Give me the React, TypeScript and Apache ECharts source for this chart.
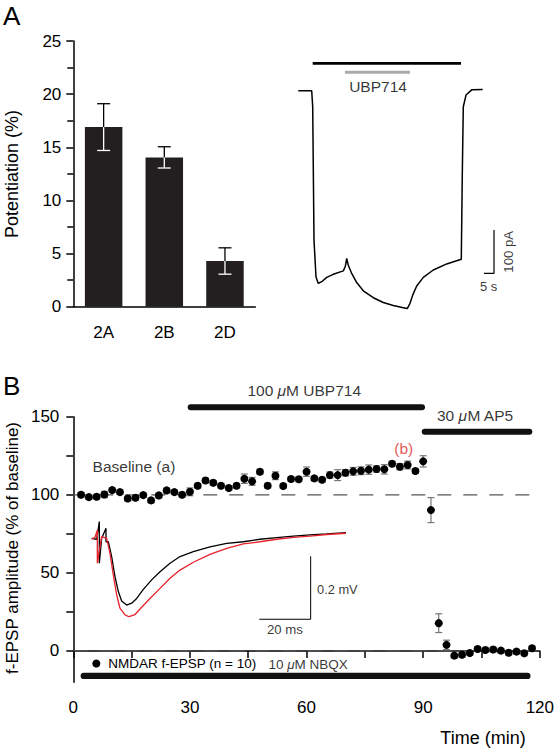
import React, { useEffect, useRef } from 'react';
import * as echarts from 'echarts';

const FONT = "'Liberation Sans', Arial, Helvetica, sans-serif";

// ---------- Panel A: potentiation by subunit ----------
const subunits = ['2A', '2B', '2D'];
const potentiation = [16.9, 14.05, 4.3];
const potentiationSem = [2.2, 1.0, 1.24];

// ---------- Panel A: whole-cell current trace ----------
const traceTimeS = [0, 6.7, 7.2, 7.85, 8.85, 10, 11.7, 14.2, 17.5, 22.5, 23.5, 24.2, 25, 26.7, 29.2, 32.5, 37.5, 42.5, 47.5, 52.5, 54.5, 55.85, 57.2, 59.2, 62.5, 67.5, 74.2, 81.5, 82, 82.5, 83.85, 86.7, 92.2];
const traceCurrentPA = [0, 0, -37, -345, -430, -445, -441, -431, -424, -416, -406, -387, -403, -422, -443, -462, -478, -489, -496, -501, -503, -491, -472, -451, -431, -414, -400, -389, -191, -37, -10, 2, 3];
const agonistBar = [[7.2, 63.3], [81.35, 63.3]];
const ubpApplicationBar = [[23.35, 42.5], [55.85, 42.5]];
const currentScaleBar = [[92.85, -421.7], [97.85, -421.7], [97.85, -321.7]];

// ---------- Panel B: NMDAR f-EPSP time course ----------
const timeMin = [2, 4, 6, 8, 10, 12, 14, 16, 18, 20, 22, 24, 26, 28, 30, 32, 34, 36, 38, 40, 42, 44, 46, 48, 50, 52, 54, 56, 58, 60, 62, 64, 66, 68, 70, 72, 74, 76, 78, 80, 82, 84, 86, 88, 90, 92, 94, 96, 98, 100, 102, 104, 106, 108, 110, 112, 114, 116, 118];
const fepsp = [100.0, 98.5, 98.7, 100.2, 103.0, 101.7, 97.6, 98.1, 99.8, 96.4, 99.6, 102.8, 101.7, 100.0, 101.9, 105.8, 109.2, 107.7, 105.8, 104.3, 105.8, 110.3, 108.6, 114.8, 105.8, 112.2, 105.6, 110.1, 109.9, 114.8, 110.5, 109.6, 112.6, 112.6, 114.1, 115.0, 115.4, 116.1, 116.5, 116.3, 119.9, 118.0, 119.1, 115.2, 121.4, 90.2, 17.8, 3.9, -3.0, -2.4, -1.3, 1.3, 0.6, 0.9, 0.2, -1.1, -0.4, -1.5, 1.7];
const fepspSem = [1.5, 1.5, 1.5, 2.0, 1.5, 1.5, 1.5, 1.5, 1.5, 1.5, 1.5, 1.5, 1.5, 1.5, 2.5, 1.5, 1.5, 1.5, 1.5, 1.5, 1.5, 3.0, 2.5, 1.5, 1.5, 2.5, 1.5, 1.5, 1.5, 3.0, 1.5, 1.5, 2.0, 3.5, 2.0, 2.5, 2.5, 3.0, 2.0, 3.0, 1.5, 2.0, 2.5, 1.5, 3.6, 8.0, 6.0, 3.0, 1.5, 1.5, 1.5, 1.5, 1.5, 1.5, 1.5, 1.5, 1.5, 1.5, 1.5];
const timeTicks = [0, 15, 30, 45, 60, 75, 90, 105, 120];
const timeTickLabels = [0, 30, 60, 90, 120];
const ampTicks = [0, 25, 50, 75, 100, 125, 150];
const ampTickLabels = [0, 50, 100, 150];
const ubpBarB = [[30.2, 156], [89.7, 156]];
const ap5Bar = [[90.4, 140.3], [117.3, 140.3]];
const nbqxBar = [[2.7, -16], [116.8, -16]];
const baselineRef = [[0, 100], [120, 100]];
const zeroRef = [[0, 0], [120, 0]];

// ---------- Panel B inset: example f-EPSPs ----------
const baselineTimeMs = [0, 1.93, 2.97, 2.97, 3.88, 5.56, 5.56, 6.47, 7.77, 9.07, 10.36, 11.66, 13.6, 15.55, 17.5, 20.09, 23.33, 26.58, 30.47, 34.36, 39.55, 46.03, 52.52, 59, 65.49, 71.97, 78.46, 84.94, 91.43, 98.95];
const baselineMv = [0, -0.003, 0.053, -0.079, 0, 0.032, -0.011, -0.011, -0.058, -0.122, -0.169, -0.199, -0.212, -0.206, -0.191, -0.162, -0.132, -0.106, -0.079, -0.058, -0.042, -0.027, -0.016, -0.011, -0.003, 0.002, 0.007, 0.011, 0.014, 0.018];
const ubpTimeMs = [0, 1.28, 2.19, 2.19, 3.88, 5.82, 7.12, 8.42, 9.72, 11.01, 12.96, 14.51, 16.85, 19.44, 22.68, 26.58, 30.47, 34.36, 39.55, 46.03, 52.52, 59, 65.49, 71.97, 78.46, 84.94, 91.43, 98.95];
const ubpMv = [-0.003, 0.003, 0.026, -0.079, 0.005, 0, -0.048, -0.117, -0.18, -0.222, -0.243, -0.249, -0.242, -0.219, -0.191, -0.159, -0.127, -0.101, -0.076, -0.051, -0.032, -0.018, -0.011, -0.003, 0.003, 0.007, 0.012, 0.016];
const insetScaleBar = [[65.2, -0.257], [85.2, -0.257], [85.2, -0.057]];

const LEGEND_NAME = 'NMDAR f-EPSP (n = 10)';

type Ann = { x: number; y: number; text: string; align?: string; rotate?: number; color?: string; size?: number };

function labelSeries(xi: number, yi: number, items: Ann[]) {
  return {
    type: 'scatter',
    xAxisIndex: xi,
    yAxisIndex: yi,
    symbolSize: 0,
    silent: true,
    clip: false,
    z: 10,
    itemStyle: { color: 'rgba(0,0,0,0)' },
    data: items.map((it) => ({
      value: [it.x, it.y],
      label: {
        show: true,
        position: 'inside',
        formatter: it.text,
        align: it.align || 'center',
        verticalAlign: 'middle',
        rotate: it.rotate || 0,
        color: it.color || '#000',
        fontSize: it.size || 15.5,
        fontFamily: FONT,
        rich: {
          i: { fontStyle: 'italic', fontSize: it.size || 15.5, fontFamily: FONT, color: it.color || '#000' },
        },
      },
    })),
  };
}

function lineSeries(xi: number, yi: number, data: number[][], style: any, z = 2) {
  return {
    type: 'line',
    xAxisIndex: xi,
    yAxisIndex: yi,
    data,
    showSymbol: false,
    symbol: 'none',
    silent: true,
    clip: false,
    z,
    lineStyle: style,
  };
}

const axisLineStyle = { color: '#000', width: 1.5 };
const labelStyle = { color: '#000', fontSize: 17, fontFamily: FONT };

function buildOption() {
  const hidden = { show: false };
  return {
    animation: false,
    backgroundColor: '#fff',
    legend: {
      data: [{ name: LEGEND_NAME, icon: 'circle' }],
      left: 92.3,
      top: 656.5,
      itemWidth: 8,
      itemHeight: 8,
      padding: 0,
      selectedMode: false,
      textStyle: { fontSize: 13.5, fontFamily: FONT, color: '#000', padding: [0, 0, 0, 3] },
    },
    grid: [
      { left: 73.3, top: 41, width: 182, height: 265.7 },
      { left: 298.3, top: 56.1, width: 200, height: 259.8 },
      { left: 73.3, top: 416.7, width: 468.5, height: 265.5 },
      { left: 91.7, top: 506.8, width: 257, height: 126 },
    ],
    xAxis: [
      {
        gridIndex: 0,
        type: 'category',
        data: subunits,
        boundaryGap: true,
        axisLine: { lineStyle: axisLineStyle },
        axisTick: { alignWithLabel: false, length: 7, lineStyle: axisLineStyle },
        axisLabel: { ...labelStyle, margin: 17 },
        splitLine: hidden,
      },
      { gridIndex: 1, type: 'value', min: 0, max: 100, show: false },
      {
        gridIndex: 2,
        type: 'value',
        min: 0,
        max: 120,
        interval: 15,
        axisLine: { lineStyle: axisLineStyle },
        axisTick: { length: 7, lineStyle: axisLineStyle, customValues: timeTicks },
        axisLabel: { ...labelStyle, margin: 17, customValues: timeTickLabels },
        splitLine: hidden,
      },
      { gridIndex: 3, type: 'value', min: 0, max: 100, show: false },
    ],
    yAxis: [
      {
        gridIndex: 0,
        type: 'value',
        min: 0,
        max: 25,
        interval: 5,
        axisLine: { show: true, lineStyle: axisLineStyle },
        axisTick: { show: true, length: 7, lineStyle: axisLineStyle },
        minorTick: { show: true, splitNumber: 2, length: 6, lineStyle: axisLineStyle },
        axisLabel: { ...labelStyle, margin: 12 },
        splitLine: hidden,
      },
      { gridIndex: 1, type: 'value', min: -520, max: 80, show: false },
      {
        gridIndex: 2,
        type: 'value',
        min: -20,
        max: 150,
        axisLine: { show: true, lineStyle: axisLineStyle },
        axisTick: { show: true, length: 7, lineStyle: axisLineStyle, customValues: ampTicks },
        axisLabel: { ...labelStyle, margin: 14, customValues: ampTickLabels },
        splitLine: hidden,
      },
      { gridIndex: 3, type: 'value', min: -0.3, max: 0.1, show: false },
    ],
    graphic: [
      { type: 'text', left: 3, top: 3, style: { text: 'A', fontSize: 26, fontFamily: FONT, fill: '#000' } },
      { type: 'text', left: 3, top: 373, style: { text: 'B', fontSize: 26, fontFamily: FONT, fill: '#000' } },
      {
        type: 'text', x: 12, y: 174, rotation: Math.PI / 2,
        style: { text: 'Potentiation (%)', fontSize: 18, fontFamily: FONT, fill: '#000', align: 'center', verticalAlign: 'middle' },
      },
      {
        type: 'text', x: 12, y: 548, rotation: Math.PI / 2,
        style: { text: 'f-EPSP amplitude (% of baseline)', fontSize: 17, fontFamily: FONT, fill: '#000', align: 'center', verticalAlign: 'middle' },
      },
      {
        type: 'text', x: 483, y: 738,
        style: { text: 'Time (min)', fontSize: 18, fontFamily: FONT, fill: '#000', align: 'center', verticalAlign: 'middle' },
      },
    ],
    series: [
      // Panel A bars
      {
        type: 'bar',
        xAxisIndex: 0,
        yAxisIndex: 0,
        data: potentiation,
        barWidth: 37.5,
        itemStyle: { color: '#231f20' },
        silent: true,
        z: 2,
      },
      {
        type: 'custom',
        xAxisIndex: 0,
        yAxisIndex: 0,
        silent: true,
        z: 3,
        encode: { x: 0, y: 1 },
        data: subunits.map((_, i) => [i, potentiation[i], potentiationSem[i]]),
        renderItem: (params: any, api: any) => {
          const i = api.value(0);
          const m = api.value(1);
          const e = api.value(2);
          const pm = api.coord([i, m]);
          const pt = api.coord([i, m + e]);
          const pb = api.coord([i, m - e]);
          const hw = 6.5;
          const blk = { stroke: '#000', lineWidth: 1.3 };
          const wht = { stroke: '#fff', lineWidth: 1.3 };
          return {
            type: 'group',
            children: [
              { type: 'line', shape: { x1: pm[0], y1: pm[1], x2: pt[0], y2: pt[1] }, style: blk },
              { type: 'line', shape: { x1: pt[0] - hw, y1: pt[1], x2: pt[0] + hw, y2: pt[1] }, style: blk },
              { type: 'line', shape: { x1: pm[0], y1: pm[1], x2: pb[0], y2: pb[1] }, style: wht },
              { type: 'line', shape: { x1: pb[0] - hw, y1: pb[1], x2: pb[0] + hw, y2: pb[1] }, style: wht },
            ],
          };
        },
      },
      // Panel A trace
      lineSeries(1, 1, traceTimeS.map((t, i) => [t, traceCurrentPA[i]]), { color: '#000', width: 1.5 }),
      lineSeries(1, 1, agonistBar, { color: '#000', width: 2.6 }),
      lineSeries(1, 1, ubpApplicationBar, { color: '#aaa', width: 3 }),
      lineSeries(1, 1, currentScaleBar, { color: '#000', width: 1.2 }),
      labelSeries(1, 1, [
        { x: 39.85, y: 9.2, text: 'UBP714', size: 15.5 },
        { x: 104.85, y: -371.8, text: '100 pA', size: 13.2, rotate: 90 },
        { x: 95.2, y: -452.7, text: '5 s', size: 13 },
      ]),
      // Panel B reference lines and application bars
      lineSeries(2, 2, baselineRef, { color: '#555', width: 1.3, type: [14, 12] }, 1),
      lineSeries(2, 2, zeroRef, { color: '#555', width: 1.3, type: [14, 12] }, 1),
      lineSeries(2, 2, ubpBarB, { color: '#111', width: 6, cap: 'round' }),
      lineSeries(2, 2, ap5Bar, { color: '#111', width: 6, cap: 'round' }),
      lineSeries(2, 2, nbqxBar, { color: '#111', width: 6.3, cap: 'round' }),
      // Panel B error bars
      {
        type: 'custom',
        xAxisIndex: 2,
        yAxisIndex: 2,
        silent: true,
        z: 4,
        encode: { x: 0, y: 1 },
        data: timeMin.map((t, i) => [t, fepsp[i], fepspSem[i]]),
        renderItem: (params: any, api: any) => {
          const x = api.value(0);
          const y = api.value(1);
          const e = api.value(2);
          const pt = api.coord([x, y + e]);
          const pb = api.coord([x, y - e]);
          const hw = 3.5;
          const st = { stroke: '#777', lineWidth: 1.2 };
          return {
            type: 'group',
            children: [
              { type: 'line', shape: { x1: pt[0], y1: pt[1], x2: pb[0], y2: pb[1] }, style: st },
              { type: 'line', shape: { x1: pt[0] - hw, y1: pt[1], x2: pt[0] + hw, y2: pt[1] }, style: st },
              { type: 'line', shape: { x1: pb[0] - hw, y1: pb[1], x2: pb[0] + hw, y2: pb[1] }, style: st },
            ],
          };
        },
      },
      {
        name: LEGEND_NAME,
        type: 'scatter',
        xAxisIndex: 2,
        yAxisIndex: 2,
        symbol: 'circle',
        symbolSize: 8,
        silent: true,
        z: 5,
        itemStyle: { color: '#000', opacity: 1 },
        data: timeMin.map((t, i) => [t, fepsp[i]]),
      },
      labelSeries(2, 2, [
        { x: 59.4, y: 166.6, text: '100 {i|μ}M UBP714' },
        { x: 103.4, y: 151, text: '30 {i|μ}M AP5' },
        { x: 15.6, y: 117.9, text: 'Baseline (a)' },
        { x: 85.0, y: 129.7, text: '(b)', color: '#e0262b' },
        { x: 50.2, y: -8.6, text: '10 {i|μ}M NBQX', align: 'left', size: 13.5 },
      ]),
      // Panel B inset traces
      lineSeries(3, 3, baselineTimeMs.map((t, i) => [t, baselineMv[i]]), { color: '#000', width: 1.3 }, 6),
      lineSeries(3, 3, ubpTimeMs.map((t, i) => [t, ubpMv[i]]), { color: '#e8202a', width: 1.3 }, 7),
      lineSeries(3, 3, insetScaleBar, { color: '#000', width: 1 }, 6),
      labelSeries(3, 3, [
        { x: 87.7, y: -0.164, text: '0.2 mV', align: 'left', size: 12.8 },
        { x: 75.2, y: -0.291, text: '20 ms', size: 13.2 },
      ]),
    ],
  };
}

export default function App() {
  const ref = useRef<HTMLDivElement>(null);
  useEffect(() => {
    if (!ref.current) return;
    const chart = echarts.init(ref.current, undefined, { renderer: 'svg' });
    chart.setOption(buildOption() as any);
    return () => chart.dispose();
  }, []);
  return (
    <div
      ref={ref}
      style={{ position: 'absolute', left: 0, top: 0, width: 557, height: 750, background: '#fff' }}
    />
  );
}
